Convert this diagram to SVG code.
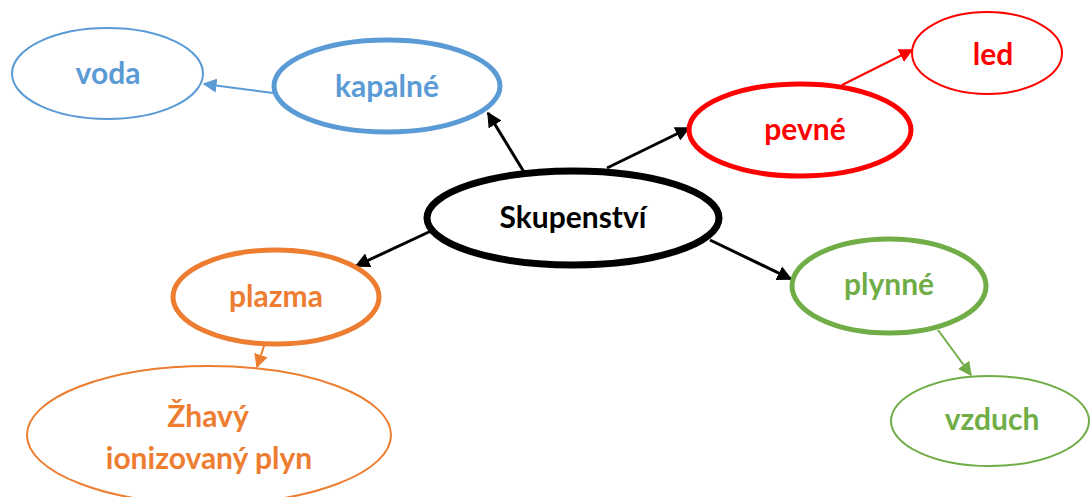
<svg xmlns="http://www.w3.org/2000/svg" width="1091" height="497" viewBox="0 0 1091 497">
<defs>
<style>
text{font-family:Lato,"Open Sans","Liberation Sans",sans-serif;font-weight:bold;font-size:30px;text-anchor:middle}
.n{fill:#fff}
.blue{stroke:#5B9BD5}.red{stroke:#FF0000}.orange{stroke:#ED7D31}.green{stroke:#70AD47}.black{stroke:#000}
.tb{fill:#5B9BD5}.tr{fill:#FF0000}.to{fill:#ED7D31}.tg{fill:#70AD47}.tk{fill:#000}
</style>
<marker id="aK" viewBox="0 0 10 10" refX="9" refY="5" markerWidth="5" markerHeight="5" markerUnits="strokeWidth" orient="auto"><path d="M0,0L10,5L0,10z" fill="#000"/></marker>
<marker id="aB" viewBox="0 0 10 10" refX="9" refY="5" markerWidth="7" markerHeight="7" markerUnits="strokeWidth" orient="auto"><path d="M0,0L10,5L0,10z" fill="#5B9BD5"/></marker>
<marker id="aR" viewBox="0 0 10 10" refX="9" refY="5" markerWidth="7" markerHeight="7" markerUnits="strokeWidth" orient="auto"><path d="M0,0L10,5L0,10z" fill="#FF0000"/></marker>
<marker id="aO" viewBox="0 0 10 10" refX="9" refY="5" markerWidth="7" markerHeight="7" markerUnits="strokeWidth" orient="auto"><path d="M0,0L10,5L0,10z" fill="#ED7D31"/></marker>
<marker id="aG" viewBox="0 0 10 10" refX="9" refY="5" markerWidth="7" markerHeight="7" markerUnits="strokeWidth" orient="auto"><path d="M0,0L10,5L0,10z" fill="#70AD47"/></marker>
</defs>
<g id="connectors">
<line class="black" stroke-width="3" x1="524" y1="172" x2="488" y2="113" marker-end="url(#aK)"/>
<line class="black" stroke-width="3" x1="607" y1="168" x2="689" y2="128" marker-end="url(#aK)"/>
<line class="black" stroke-width="3" x1="431" y1="231" x2="356" y2="266" marker-end="url(#aK)"/>
<line class="black" stroke-width="3" x1="710" y1="240" x2="791" y2="279" marker-end="url(#aK)"/>
<line class="blue" stroke-width="2" x1="273" y1="93" x2="204" y2="84" marker-end="url(#aB)"/>
<line class="red" stroke-width="2" x1="842" y1="85" x2="912" y2="50" marker-end="url(#aR)"/>
<line class="orange" stroke-width="2" x1="264" y1="346" x2="257" y2="367" marker-end="url(#aO)"/>
<line class="green" stroke-width="2" x1="938" y1="330" x2="971" y2="375" marker-end="url(#aG)"/>
</g>
<g id="skupenstvi"><ellipse class="n black" stroke-width="7" cx="573" cy="218" rx="146" ry="47"/><text class="tk" x="573" y="228">Skupenství</text></g>
<g id="kapalne"><ellipse class="n blue" stroke-width="5" cx="387" cy="86" rx="113" ry="46"/><text class="tb" x="387" y="97">kapalné</text></g>
<g id="voda"><ellipse class="n blue" stroke-width="2" cx="107.5" cy="73.5" rx="95.5" ry="45.5"/><text class="tb" x="108" y="84">voda</text></g>
<g id="pevne"><ellipse class="n red" stroke-width="5" cx="800" cy="130" rx="111" ry="46"/><text class="tr" x="805" y="140">pevné</text></g>
<g id="led"><ellipse class="n red" stroke-width="2" cx="987" cy="53" rx="75" ry="41"/><text class="tr" x="993" y="65">led</text></g>
<g id="plazma"><ellipse class="n orange" stroke-width="5" cx="276" cy="297" rx="103" ry="47"/><text class="to" x="276" y="307">plazma</text></g>
<g id="zhavy"><ellipse class="n orange" stroke-width="2" cx="209" cy="435" rx="182" ry="69"/><text class="to" x="208" y="427">Žhavý</text><text class="to" x="209" y="469">ionizovaný plyn</text></g>
<g id="plynne"><ellipse class="n green" stroke-width="5" cx="889" cy="286" rx="97" ry="47"/><text class="tg" x="889" y="295">plynné</text></g>
<g id="vzduch"><ellipse class="n green" stroke-width="2" cx="990" cy="421" rx="99" ry="45"/><text class="tg" x="992" y="430">vzduch</text></g>
</svg>
